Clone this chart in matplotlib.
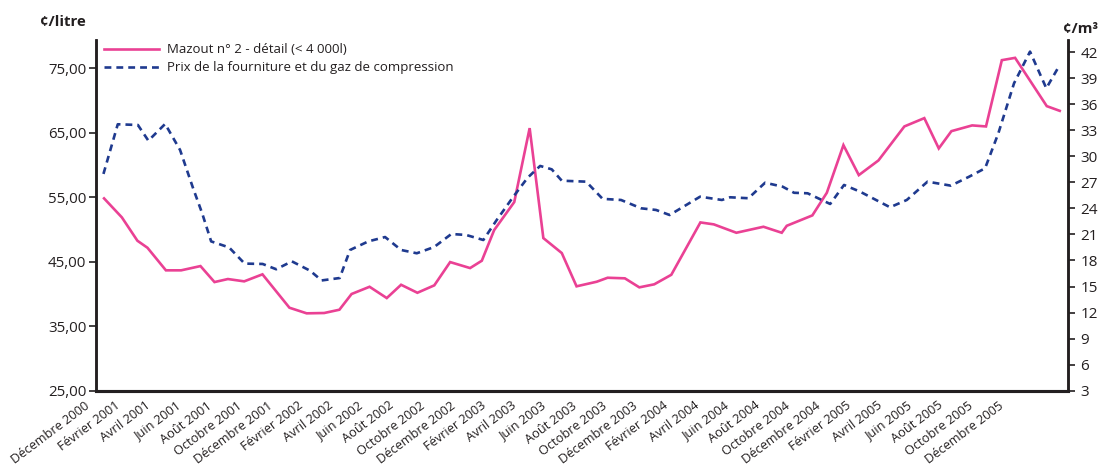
import numpy as np
import matplotlib
matplotlib.use("Agg")
import matplotlib.pyplot as plt
import matplotlib.transforms as mtransforms
from matplotlib.ticker import FixedLocator, FixedFormatter

plt.rcParams['font.family'] = ['Open Sans', 'DejaVu Sans']

# x positions in months counted from Décembre 2000
mois_labels = ["Décembre 2000", "Février 2001", "Avril 2001", "Juin 2001", "Août 2001",
               "Octobre 2001", "Décembre 2001", "Février 2002", "Avril 2002", "Juin 2002",
               "Août 2002", "Octobre 2002", "Décembre 2002", "Février 2003", "Avril 2003",
               "Juin 2003", "Août 2003", "Octobre 2003", "Décembre 2003", "Février 2004",
               "Avril 2004", "Juin 2004", "Août 2004", "Octobre 2004", "Décembre 2004",
               "Février 2005", "Avril 2005", "Juin 2005", "Août 2005", "Octobre 2005",
               "Décembre 2005"]

# Mazout n° 2 (¢/litre)
mazout_x = [0.00, 1.17, 2.19, 2.85, 4.06, 5.06, 6.33, 7.25, 8.13, 9.20, 10.40, 12.17,
            13.30, 14.45, 15.45, 16.25, 17.43, 18.56, 19.50, 20.57, 21.68, 22.72, 24.03,
            24.80, 25.61, 26.93, 27.94, 28.84, 30.05, 31.02, 32.34, 33.06, 34.19, 35.14,
            36.12, 37.24, 39.15, 40.03, 41.51, 43.29, 44.49, 44.82, 46.50, 47.45, 48.54,
            49.55, 50.84, 52.54, 53.85, 54.80, 55.63, 56.99, 57.90, 58.94, 59.81, 61.89,
            62.74]
mazout = [54.83, 51.88, 48.26, 47.17, 43.67, 43.67, 44.33, 41.85, 42.32, 41.96, 43.05, 37.87,
          37.00, 37.05, 37.56, 40.00, 41.12, 39.37, 41.43, 40.19, 41.34, 44.95, 44.02,
          45.16, 49.91, 54.26, 65.73, 48.67, 46.35, 41.19, 41.90, 42.52, 42.43, 41.03,
          41.50, 42.98, 51.10, 50.80, 49.50, 50.43, 49.50, 50.58, 52.19, 55.70, 63.09,
          58.44, 60.72, 65.99, 67.28, 62.58, 65.26, 66.15, 65.99, 76.27, 76.63, 69.14,
          68.41]

# fourniture + gaz de compression (¢/m³)
gaz_x = [-0.04, 0.90, 2.22, 2.91, 4.01, 4.99, 5.85, 6.44, 7.03, 8.21, 9.23, 10.41, 11.30,
         12.33, 13.53, 14.28, 15.47, 16.15, 17.35, 18.45, 19.50, 20.53, 21.67, 22.80,
         23.77, 24.90, 25.78, 26.87, 27.81, 28.63, 29.39, 30.05, 31.65, 32.73, 33.94,
         35.26, 36.24, 37.13, 39.13, 40.56, 41.10, 42.30, 43.40, 44.55, 45.30, 46.19,
         47.67, 48.58, 49.63, 51.60, 52.70, 54.06, 55.59, 56.79, 57.84, 58.71, 59.74,
         60.79, 61.86, 62.74]
gaz = [27.97, 33.69, 33.61, 31.80, 33.73, 30.73, 26.30, 23.44, 20.20, 19.50, 17.64, 17.60,
       16.99, 17.90, 16.82, 15.70, 15.98, 19.21, 20.20, 20.70, 19.21, 18.83, 19.55, 21.05,
       20.94, 20.36, 22.67, 25.35, 27.54, 28.89, 28.50, 27.19, 27.08, 25.10, 24.97, 24.01,
       23.82, 23.24, 25.35, 24.97, 25.28, 25.17, 26.96, 26.50, 25.80, 25.74, 24.51, 26.70,
       25.93, 24.13, 24.97, 27.08, 26.62, 27.65, 28.62, 32.65, 38.41, 42.06, 37.84, 40.52]

ticks_litre = [25, 35, 45, 55, 65, 75]
ticks_m3 = [3, 6, 9, 12, 15, 18, 21, 24, 27, 30, 33, 36, 39, 42]

rose = '#EA4194'
bleu = '#1F3A8F'
noir = '#231F20'

fig = plt.figure(figsize=(11.02, 4.65), dpi=100)
ax = fig.add_axes([0.0871, 0.1598, 0.882, 0.7542])
ax2 = ax.twinx()

l1, = ax.plot(mazout_x, mazout, color=rose, lw=1.9, solid_joinstyle='miter',
              label="Mazout n° 2 - détail (< 4 000l)")
l2, = ax2.plot(gaz_x, gaz, color=bleu, lw=1.9, ls=(0, (2.6, 1.9)),
               label="Prix de la fourniture et du gaz de compression")

ax.set_xlim(-0.53, 63.28)
ax.set_ylim(25, 79.4)
ax2.set_ylim(3, 43.4)

ax.xaxis.set_major_locator(FixedLocator(np.arange(0, 61, 2)))
ax.xaxis.set_major_formatter(FixedFormatter(mois_labels))
ax.tick_params(axis='x', length=0, pad=6, labelsize=9.2, colors=noir)
# rotated month labels end a little left of their month
decal = mtransforms.ScaledTranslation(-0.12, 0, fig.dpi_scale_trans)
for lab in ax.get_xticklabels():
    lab.set_rotation(37)
    lab.set_ha('right')
    lab.set_transform(lab.get_transform() + decal)

ax.set_yticks(ticks_litre)
ax.set_yticklabels([f"{v:.2f}".replace('.', ',') for v in ticks_litre])
ax.tick_params(axis='y', length=5, width=1.2, pad=2, labelsize=10.8, colors=noir)

ax2.set_yticks(ticks_m3)
ax2.set_yticklabels([str(v) for v in ticks_m3])
ax2.tick_params(axis='y', length=5, width=1.2, pad=4, labelsize=11, colors=noir)

for a in (ax, ax2):
    a.spines['top'].set_visible(False)
    a.spines['left'].set_linewidth(1.8)
    a.spines['right'].set_linewidth(1.8)
    a.spines['bottom'].set_linewidth(2.2)
    for s in a.spines.values():
        s.set_color(noir)

fig.text(0.036, 0.953, "¢/litre", fontsize=10.8, fontweight='bold', color=noir,
         ha='left', va='center')
fig.text(0.9646, 0.937, "¢/m³", fontsize=10.8, fontweight='bold', color=noir,
         ha='left', va='center')

leg = ax2.legend(handles=[l1, l2], loc='upper left', bbox_to_anchor=(0.008, 0.99),
                 frameon=False, fontsize=9.5, handlelength=4.2, handletextpad=0.6,
                 borderpad=0, borderaxespad=0, labelspacing=0.36)
for t in leg.get_texts():
    t.set_color(noir)

fig.savefig("out.png", dpi=100)
